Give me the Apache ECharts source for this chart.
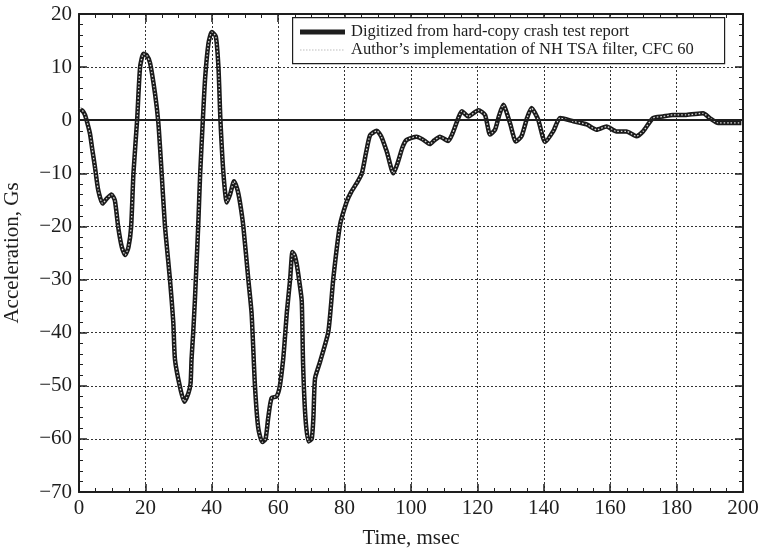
<!DOCTYPE html>
<html>
<head>
<meta charset="utf-8">
<script src="https://cdn.jsdelivr.net/npm/echarts@6/dist/echarts.min.js"></script>
<style>html,body{margin:0;padding:0;background:#fff;}#c{width:758px;height:550px;}</style>
</head>
<body>
<div id="c"></div>
<script>
const timeMs = [0.3,1.0,1.8,2.5,3.3,4.0,4.8,5.8,7.1,8.3,9.8,10.8,11.8,12.9,13.9,14.9,15.7,16.4,17.5,18.4,19.4,20.4,21.4,22.9,23.9,24.8,25.9,27.4,28.4,28.9,30.4,31.7,32.9,33.6,33.9,34.4,34.9,35.4,35.9,36.5,37.3,38.0,39.0,40.0,41.2,42.0,42.6,43.5,44.5,45.5,46.7,47.7,48.5,49.5,51.0,52.0,53.0,54.0,55.2,56.2,57.0,58.0,59.5,60.5,61.5,62.0,62.6,63.6,64.3,65.0,65.6,66.5,67.1,67.5,68.2,69.1,70.1,70.6,71.1,72.6,75.1,76.6,78.6,80.6,82.0,83.6,85.2,86.5,87.7,89.7,91.0,92.7,94.7,96.0,97.5,98.7,101.7,103.5,105.7,107.0,108.7,111.2,112.5,114.3,115.3,117.3,120.3,122.3,123.8,125.3,126.5,127.8,129.8,131.6,133.3,135.0,136.3,138.3,140.4,142.9,144.9,148.9,152.9,155.9,158.9,161.9,164.9,167.9,169.9,172.9,175.9,178.9,182.9,188.0,190.0,192.5,196.0,199.5];
const digitized = [2.0,1.8,1.0,-0.5,-2.5,-5.5,-8.8,-13.2,-15.7,-14.8,-14.0,-15.1,-20.1,-23.9,-25.4,-23.9,-20.1,-10.0,0,10.0,12.5,12.2,10.8,5.0,-0.5,-9.0,-20,-30,-38,-45,-50.2,-53,-51.5,-49.6,-45,-40,-34,-27,-20,-10,0,8,14.5,16.6,15.8,10,0,-10,-15.5,-14,-11.5,-13,-15.5,-20,-30,-36.5,-50,-58,-60.6,-60,-56,-52.3,-52,-50,-45,-41.2,-36.2,-29.9,-24.8,-25.5,-27.2,-31,-34.1,-46,-56,-60.5,-60,-56,-48.6,-45.5,-39.8,-29.8,-19.8,-15.4,-13.5,-11.9,-10,-6,-2.8,-2,-3,-5.9,-10,-8,-5,-3.7,-3.1,-3.6,-4.5,-3.8,-3.1,-3.9,-2.5,0.5,1.7,0.7,1.9,1.0,-2.7,-1.8,0.8,2.9,-0.5,-4,-3,0.5,2.3,0.1,-4.1,-2,0.4,-0.2,-0.8,-1.8,-1.2,-2.1,-2.1,-3,-2.1,0.4,0.7,1.0,1.0,1.3,0.4,-0.5,-0.5,-0.5];
const filtered = [2.3,1.9,1.0,-0.5,-2.5,-5.5,-8.8,-13.2,-15.7,-14.8,-14.0,-15.1,-20.1,-23.9,-25.4,-23.9,-20.1,-10.0,0,10.0,12.5,12.2,10.8,5.0,-0.5,-9.0,-20,-30,-38,-45,-50.2,-53,-51.5,-49.6,-45,-40,-34,-27,-20,-10,0,8,14.5,16.6,15.8,10,0,-10,-15.5,-14,-11.5,-13,-15.5,-20,-30,-36.5,-50,-58,-60.6,-60,-56,-52.3,-52,-50,-45,-41.2,-36.2,-29.9,-24.8,-25.5,-27.2,-31,-34.1,-46,-56,-60.5,-60,-56,-48.6,-45.5,-39.8,-29.8,-19.8,-15.4,-13.5,-11.9,-10,-6,-2.8,-2,-3,-5.9,-10,-8,-5,-3.7,-3.1,-3.6,-4.5,-3.8,-3.1,-3.9,-2.5,0.5,1.7,0.7,1.9,1.0,-2.7,-1.8,0.8,2.9,-0.5,-4,-3,0.5,2.3,0.1,-4.1,-2,0.4,-0.2,-0.8,-1.8,-1.2,-2.1,-2.1,-3,-2.1,0.4,0.7,1.0,1.0,1.3,0.4,-0.5,-0.5,-0.5];
const seriesNames = ['Digitized from hard-copy crash test report', 'Author\u2019s implementation of NH TSA filter, CFC 60'];
const xTicks = {min: 0, max: 200, interval: 20};
const yTicks = {min: -70, max: 20, interval: 10};
const xName = 'Time, msec';
const yName = 'Acceleration, Gs';

const FONT = '"Liberation Serif", "DejaVu Serif", serif';
const INK = '#1e1e1e';
const minus = v => String(v).replace('-', '\u2212');
const pairs = arr => timeMs.map((t, i) => [t, arr[i]]);

const baseAxis = {
  axisLine: {show: true, onZero: false, lineStyle: {color: INK, width: 2}},
  axisTick: {show: true, inside: true, length: 8, lineStyle: {color: INK, width: 1.5}},
  minorTick: {show: true, length: 4, lineStyle: {color: INK, width: 1}},
};

const chart = echarts.init(document.getElementById('c'), null, {renderer: 'canvas'});
chart.setOption({
  animation: false,
  backgroundColor: '#fff',
  grid: {left: 79, right: 15, top: 14, bottom: 58, containLabel: false, outerBoundsMode: 'none'},
  xAxis: [
    Object.assign({}, baseAxis, {
      type: 'value', position: 'bottom', min: xTicks.min, max: xTicks.max, interval: xTicks.interval,
      minorTick: Object.assign({}, baseAxis.minorTick, {splitNumber: 4}),
      name: xName, nameLocation: 'middle', nameGap: 36,
      nameTextStyle: {fontFamily: FONT, fontSize: 21, color: INK},
      axisLabel: {fontFamily: FONT, fontSize: 21, color: INK, margin: 6, formatter: minus},
      splitLine: {show: true, lineStyle: {color: '#333', width: 1, type: [2, 2]}}
    }),
    Object.assign({}, baseAxis, {
      type: 'value', position: 'top', min: xTicks.min, max: xTicks.max, interval: xTicks.interval,
      minorTick: Object.assign({}, baseAxis.minorTick, {splitNumber: 4}),
      axisLabel: {show: false}, splitLine: {show: false}
    })
  ],
  yAxis: [
    Object.assign({}, baseAxis, {
      type: 'value', position: 'left', min: yTicks.min, max: yTicks.max, interval: yTicks.interval,
      minorTick: Object.assign({}, baseAxis.minorTick, {splitNumber: 5}),
      name: yName, nameLocation: 'middle', nameGap: 56, nameRotate: 90,
      nameTextStyle: {fontFamily: FONT, fontSize: 21, color: INK},
      axisLabel: {fontFamily: FONT, fontSize: 21, color: INK, margin: 7, formatter: minus},
      splitLine: {show: true, lineStyle: {color: '#333', width: 1, type: [2, 2]}}
    }),
    Object.assign({}, baseAxis, {
      type: 'value', position: 'right', min: yTicks.min, max: yTicks.max, interval: yTicks.interval,
      minorTick: Object.assign({}, baseAxis.minorTick, {splitNumber: 5}),
      axisLabel: {show: false}, splitLine: {show: false}
    })
  ],
  graphic: [
    {type: 'rect', left: 292, top: 17, z: 10, shape: {width: 432, height: 46},
     style: {fill: '#fff', stroke: INK, lineWidth: 1.2}},
    {type: 'line', z: 11, shape: {x1: 300, y1: 32, x2: 345, y2: 32},
     style: {stroke: INK, lineWidth: 5}},
    {type: 'line', z: 11, shape: {x1: 300, y1: 50, x2: 345, y2: 50},
     style: {stroke: '#bdbdbd', lineWidth: 1.2, lineDash: [1.5, 1.5]}},
    {type: 'text', z: 11, x: 351, y: 32,
     style: {text: seriesNames[0], font: '16.5px ' + FONT, fill: INK, textVerticalAlign: 'middle', verticalAlign: 'middle'}},
    {type: 'text', z: 11, x: 351, y: 50,
     style: {text: seriesNames[1], font: '16.5px ' + FONT, fill: INK, textVerticalAlign: 'middle', verticalAlign: 'middle'}}
  ],
  series: [
    {
      name: seriesNames[0], type: 'line', xAxisIndex: 0, yAxisIndex: 0,
      data: pairs(digitized), showSymbol: false, symbol: 'none', smooth: 0.2,
      lineStyle: {color: '#1a1a1a', width: 4.5}, z: 3,
      markLine: {
        silent: true, symbol: 'none', label: {show: false},
        lineStyle: {color: INK, width: 2.2, type: 'solid'},
        data: [{yAxis: 0}]
      }
    },
    {
      name: seriesNames[1], type: 'line', xAxisIndex: 0, yAxisIndex: 0,
      data: pairs(filtered), showSymbol: false, symbol: 'none', smooth: 0.2,
      lineStyle: {color: '#d8d8d8', width: 1.3, type: [1.5, 2]}, z: 4
    }
  ]
});
</script>
</body>
</html>
